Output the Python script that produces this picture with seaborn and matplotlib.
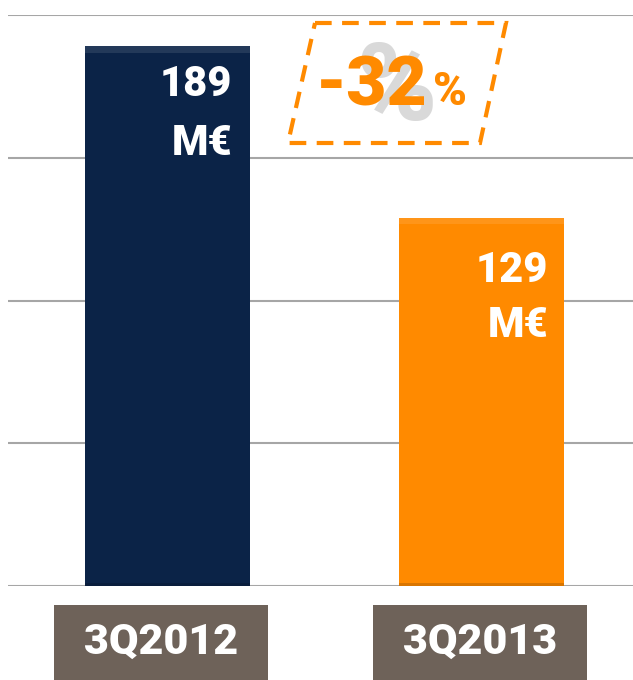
import matplotlib
matplotlib.use("Agg")
import matplotlib.pyplot as plt
import matplotlib.transforms as mtransforms
from matplotlib.patches import Rectangle, Polygon
import seaborn as sns
import pandas as pd

categories = ["3Q2012", "3Q2013"]
values = [189, 129]
value_numbers = ["189", "129"]
value_unit = "M€"
bar_colors = ["#0b2347", "#ff8a00"]
change_label = "-32"
yticks = [0, 50, 100, 150, 200]

sns.set_theme(style="white")
plt.rcParams["font.family"] = ["Roboto", "DejaVu Sans"]

fig = plt.figure(figsize=(6.33, 6.80), dpi=100)
ax = fig.add_axes([8/633, (680-586)/680, 625/633, 571/680])

df = pd.DataFrame({"cat": categories, "val": values})
sns.barplot(data=df, x="cat", y="val", hue="cat", palette=bar_colors,
            width=0.525, legend=False, ax=ax, saturation=1, zorder=3,
            edgecolor="none")

ax.set_ylim(0, 200)
ax.set_xlim(-0.508, 1.482)
ax.set_yticks(yticks)
ax.yaxis.grid(True, color="#a6a6a6", linewidth=1.5, zorder=0)
ax.set_axisbelow(True)
ax.tick_params(left=False, bottom=False, labelleft=False, labelbottom=False)
for s in ax.spines.values():
    s.set_visible(False)
ax.set_xlabel("")
ax.set_ylabel("")

# subtle bevel on bars
for p in list(ax.patches):
    x0 = p.get_x(); w = p.get_width(); h = p.get_height()
    ax.add_patch(Rectangle((x0, h - 2.2), w, 2.2, color="white", alpha=0.10, zorder=4, lw=0))
    ax.add_patch(Rectangle((x0, 0), w, 1.0, color="black", alpha=0.15, zorder=4, lw=0))

# value labels inside bars (offsets in px below bar top)
px = 200 / 571.0
num_off = [18, 32]
unit_off = [77, 87]
right_pad = [0.057, 0.051]
for i, v in enumerate(values):
    xr = i + 0.525/2 - right_pad[i]
    ax.text(xr, v - num_off[i]*px, value_numbers[i], ha="right", va="top",
            color="white", fontsize=30, fontweight="black", zorder=5)
    ax.text(xr, v - unit_off[i]*px, value_unit, ha="right", va="top",
            color="white", fontsize=30, fontweight="black", zorder=5)

# category boxes below
trans = mtransforms.blended_transform_factory(ax.transData, fig.transFigure)
for i, c in enumerate(categories):
    xc = i - 0.02 if i == 0 else i - 0.005
    ax.add_patch(Rectangle((xc - 0.34, 0), 0.68, 75/680, transform=trans,
                           color="#6e6259", clip_on=False, zorder=2, lw=0))
    ax.text(xc, 38/680, c, transform=trans, ha="center", va="center",
            color="white", fontsize=31, fontweight="black", zorder=3)

# change badge
ftrans = fig.transFigure
def fp(x, y):
    return (x/633, 1 - y/680)
poly = Polygon([fp(315, 23), fp(506, 23), fp(480, 143), fp(288, 143)], closed=True,
               fill=False, edgecolor="#ff8a00", linewidth=3, linestyle=(0, (4, 2.5)),
               transform=ftrans)
fig.patches.append(poly)
fig.text(396/633, 1 - 120/680, "%", ha="center", va="baseline", color="#d9d9d9",
         fontsize=78, fontweight="black")
fig.text(428/633, 1 - 105/680, change_label, ha="right", va="baseline",
         color="#ff8a00", fontsize=50, fontweight="black")
fig.text(433/633, 1 - 105/680, "%", ha="left", va="baseline",
         color="#ff8a00", fontsize=33, fontweight="black")

fig.savefig("out.png", dpi=100)
